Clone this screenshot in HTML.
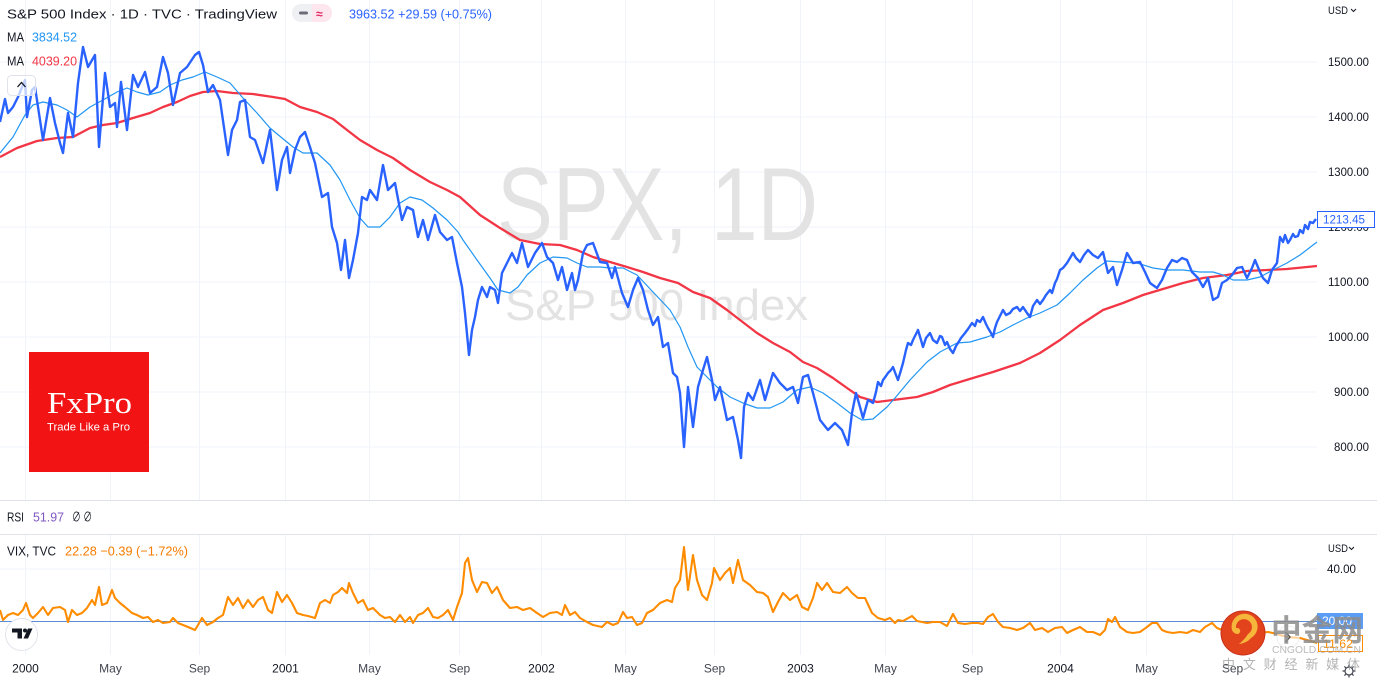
<!DOCTYPE html>
<html><head><meta charset="utf-8"><style>
html,body{margin:0;padding:0;background:#fff;}
svg{display:block;}
text{font-family:"Liberation Sans","Noto Sans CJK SC",sans-serif;}
</style></head><body>
<svg width="1377" height="682" viewBox="0 0 1377 682" xmlns="http://www.w3.org/2000/svg">
<rect width="1377" height="682" fill="#fff"/>
<!-- grid main -->
<g stroke="#f0f3fa" stroke-width="1">
<line x1="0" y1="62" x2="1317" y2="62"/><line x1="0" y1="117" x2="1317" y2="117"/><line x1="0" y1="172" x2="1317" y2="172"/><line x1="0" y1="227" x2="1317" y2="227"/><line x1="0" y1="282" x2="1317" y2="282"/><line x1="0" y1="337" x2="1317" y2="337"/><line x1="0" y1="392" x2="1317" y2="392"/><line x1="0" y1="447" x2="1317" y2="447"/>
<line x1="0" y1="569" x2="1317" y2="569"/>
</g>
<g stroke="#f0f3fa" stroke-width="1">
<line x1="25.5" y1="0" x2="25.5" y2="655"/><line x1="110.5" y1="0" x2="110.5" y2="655"/><line x1="199.5" y1="0" x2="199.5" y2="655"/><line x1="285.5" y1="0" x2="285.5" y2="655"/><line x1="369.5" y1="0" x2="369.5" y2="655"/><line x1="459.5" y1="0" x2="459.5" y2="655"/><line x1="541.5" y1="0" x2="541.5" y2="655"/><line x1="625.5" y1="0" x2="625.5" y2="655"/><line x1="714.5" y1="0" x2="714.5" y2="655"/><line x1="800.5" y1="0" x2="800.5" y2="655"/><line x1="885.5" y1="0" x2="885.5" y2="655"/><line x1="972.5" y1="0" x2="972.5" y2="655"/><line x1="1060.5" y1="0" x2="1060.5" y2="655"/><line x1="1146.5" y1="0" x2="1146.5" y2="655"/><line x1="1232.5" y1="0" x2="1232.5" y2="655"/>
</g>
<rect x="0" y="501" width="1377" height="33" fill="#fff"/>
<!-- pane separators -->
<line x1="0" y1="500.5" x2="1377" y2="500.5" stroke="#e0e3eb"/>
<line x1="0" y1="534.5" x2="1377" y2="534.5" stroke="#e0e3eb"/>
<!-- watermark -->
<text x="497" y="240" font-size="104" fill="#e3e3e3" textLength="321" lengthAdjust="spacingAndGlyphs">SPX, 1D</text>
<text x="505" y="320" font-size="44" fill="#e3e3e3" textLength="303" lengthAdjust="spacingAndGlyphs">S&amp;P 500 Index</text>
<!-- FxPro -->
<rect x="29" y="352" width="120" height="120" fill="#f21414"/>
<text x="47" y="413" font-size="31" fill="#fff" style="font-family:'Liberation Serif',serif" textLength="85" lengthAdjust="spacingAndGlyphs">FxPro</text>
<text x="47" y="430.5" font-size="11" fill="#fff" textLength="83" lengthAdjust="spacingAndGlyphs">Trade Like a Pro</text>
<!-- red MA -->
<polyline fill="none" stroke="#f23645" stroke-width="2.3" stroke-linejoin="round" points="0,157 17,148 37,141 57,138 73,137 90,128 103,125 117,123 133,118 150,113 163,107 177,102 190,96 203,92 217,91 233,93 253,94 273,97 285,99 300,107 317,112 333,119 347,130 360,140 377,150 393,158 410,170 430,182 447,190 460,197 480,215 500,228 520,240 540,244 560,245 577,250 593,257 610,262 627,267 643,272 660,278 678,283 693,292 710,298 727,310 740,320 757,333 773,343 790,352 803,362 817,368 833,378 847,388 860,397 877,402 893,400 917,397 933,392 950,385 973,378 993,372 1020,363 1040,353 1060,340 1080,325 1103,310 1123,303 1143,295 1163,289 1183,283 1203,278 1227,275 1247,271 1267,270 1287,269 1317,266"/>
<!-- light blue MA -->
<polyline fill="none" stroke="#2196f3" stroke-width="1.2" stroke-linejoin="round" points="0,153 13,137 25,115 33,105 43,102 57,105 67,110 77,117 90,107 103,100 117,92 127,88 137,92 148,95 160,92 170,85 182,80 193,77 205,72 217,77 230,83 243,98 257,113 270,128 282,138 293,147 303,153 317,153 330,165 340,180 350,200 360,218 368,227 380,227 390,217 400,203 410,197 422,200 433,208 447,220 458,232 463,240 477,260 490,278 498,290 510,293 518,287 527,275 540,263 553,257 567,258 577,263 587,267 600,267 610,268 623,268 637,275 653,292 670,310 680,327 688,347 697,367 707,377 717,387 730,397 743,403 757,408 770,408 783,402 797,390 810,387 823,393 837,403 850,413 862,420 873,419 887,407 895,398 910,380 927,362 940,352 957,343 970,342 987,337 1000,332 1013,325 1027,318 1040,313 1057,305 1070,293 1083,280 1097,268 1107,261 1120,262 1137,263 1153,268 1167,270 1183,270 1200,272 1213,272 1223,275 1233,280 1247,280 1260,277 1273,270 1287,263 1300,255 1317,242"/>
<!-- price -->
<polyline fill="none" stroke="#2962ff" stroke-width="2.4" stroke-linejoin="round" points="0,122 5,99 8,113 13,107 18,97 25,80 27,117 32,90 35,87 43,140 50,98 55,123 60,143 63,153 68,113 73,137 78,83 83,47 88,67 95,55 99,147 105,73 110,107 115,103 117,127 121,82 127,130 133,75 138,87 145,72 150,93 157,87 163,57 168,73 173,105 180,73 187,67 195,55 199,52 203,65 208,92 213,85 220,100 228,155 232,130 237,120 240,102 245,100 250,137 255,140 263,163 270,130 277,190 282,160 287,147 290,173 295,150 300,137 305,132 310,147 315,163 322,197 328,193 332,227 337,243 341,270 345,240 349,278 353,260 358,233 362,197 367,200 370,190 377,200 383,165 388,190 395,183 402,220 407,207 413,210 418,237 423,220 428,240 435,215 440,232 447,240 452,237 457,263 462,287 465,313 469,355 472,330 475,317 478,300 482,287 487,297 490,287 495,290 498,303 502,273 507,263 512,253 517,263 522,243 528,267 535,253 542,243 547,257 553,263 558,280 562,267 567,290 572,273 575,290 578,280 583,253 587,245 593,243 600,262 607,263 612,278 615,267 622,293 628,307 633,290 638,278 643,290 648,310 653,325 658,317 663,347 668,343 673,373 677,377 680,393 684,447 688,387 693,427 698,387 703,370 707,357 712,380 715,400 720,387 727,420 733,417 738,440 741,458 744,407 748,393 753,400 760,380 765,400 773,373 780,383 787,390 793,387 798,403 803,377 808,375 813,393 820,420 828,430 835,423 842,430 848,445 852,413 856,393 860,407 863,418 868,400 873,403 876,392 878,382 881,386 883,380 886,376 888,373 891,370 893,367 896,375 898,380 901,370 903,363 906,350 908,343 911,345 913,340 916,334 918,330 921,340 923,347 926,338 930,333 933,340 937,343 940,336 942,337 945,345 947,342 950,349 953,353 956,346 958,343 961,338 965,333 968,329 972,323 975,326 977,320 980,322 983,317 986,324 988,328 991,333 993,337 995,328 997,322 1000,316 1003,310 1006,315 1010,313 1013,309 1017,307 1020,311 1023,307 1027,313 1030,317 1033,306 1037,300 1040,304 1043,300 1046,295 1050,290 1052,293 1055,283 1057,279 1060,270 1063,268 1067,263 1070,258 1073,253 1076,258 1080,262 1084,255 1088,250 1093,255 1098,258 1103,252 1108,273 1113,267 1117,285 1122,270 1127,253 1133,263 1140,262 1145,272 1150,283 1157,288 1162,280 1167,268 1172,260 1177,262 1182,258 1187,260 1192,272 1198,278 1203,287 1208,278 1213,300 1218,297 1222,283 1227,280 1232,275 1237,268 1242,267 1247,278 1252,268 1255,260 1260,272 1263,278 1268,283 1272,270 1277,263 1280,237 1283,242 1285,235 1288,243 1290,240 1293,234 1295,237 1298,236 1300,230 1303,233 1305,225 1308,229 1310,222 1313,223 1316,219"/>
<!-- VIX baseline -->
<line x1="0" y1="621.5" x2="1317" y2="621.5" stroke="#5a8cd8" stroke-width="1"/>
<!-- VIX -->
<polyline fill="none" stroke="#ff8c00" stroke-width="2.1" stroke-linejoin="round" points="0,610 3,620 8,615 13,613 18,615 23,610 26,603 30,615 33,618 38,613 43,607 48,615 53,608 60,607 65,610 68,622 72,610 77,615 82,613 87,608 92,600 95,605 99,587 102,605 107,603 112,590 115,598 120,603 125,607 132,613 137,615 143,618 148,617 153,622 158,620 163,623 170,622 173,618 178,623 183,625 188,627 195,630 198,625 202,618 207,625 213,622 218,618 223,615 228,597 233,605 238,598 243,608 248,600 253,607 258,600 263,597 268,610 272,613 277,592 282,602 287,595 292,603 297,613 303,615 308,616 315,618 320,603 325,600 330,603 333,595 338,592 342,588 347,593 349,583 353,593 358,603 363,600 368,610 373,608 380,615 385,618 390,617 395,622 400,615 405,622 410,617 413,623 418,615 423,613 428,608 433,617 438,618 443,615 448,610 453,620 457,607 462,593 465,563 468,558 472,580 477,592 482,582 487,583 492,593 497,587 503,600 510,608 517,607 523,610 530,608 537,613 543,617 550,613 557,612 562,615 565,605 570,615 575,612 580,618 587,622 593,625 602,627 607,622 613,625 618,623 623,612 627,618 632,617 637,625 642,623 647,613 653,610 660,603 667,600 672,602 675,588 680,580 684,547 688,590 693,555 697,580 702,595 707,600 712,583 714,568 720,580 725,573 730,568 733,583 738,560 743,580 750,585 757,592 763,593 768,597 773,612 778,602 783,593 790,600 797,595 802,607 808,610 813,598 817,583 822,590 827,583 833,592 840,593 847,587 852,593 858,598 865,598 872,613 878,618 885,620 890,618 895,623 898,620 903,621 912,616 917,621 922,622 927,623 933,622 940,622 947,626 953,614 958,623 965,624 972,623 978,623 983,624 988,617 993,614 998,622 1003,627 1010,628 1017,630 1023,628 1030,623 1035,630 1042,628 1048,632 1055,628 1062,627 1067,633 1073,630 1080,627 1087,632 1093,632 1100,635 1105,630 1108,619 1112,622 1115,617 1120,627 1127,632 1133,633 1140,632 1147,627 1152,623 1157,623 1162,630 1167,632 1173,633 1180,632 1187,633 1193,630 1200,632 1205,627 1212,623 1217,628 1222,630 1230,625 1240,628 1250,630 1260,633 1268,632 1273,633 1287,637 1300,638 1307,640 1317,643"/>
<!-- header legend -->
<text x="7" y="18.5" font-size="13" fill="#131722" textLength="270" lengthAdjust="spacingAndGlyphs">S&amp;P 500 Index · 1D · TVC · TradingView</text>
<rect x="292" y="4" width="40" height="18" rx="9" fill="#eef0f3"/>
<path d="M312 4 h11 a9 9 0 0 1 0 18 h-11 z" fill="#fde6ee"/>
<rect x="299" y="11.5" width="9" height="3" rx="1.5" fill="#6a6d78"/>
<text x="316" y="18" font-size="12" fill="#e0245e" font-weight="bold">≈</text>
<text x="349" y="18.5" font-size="13" fill="#2962ff" textLength="143" lengthAdjust="spacingAndGlyphs">3963.52  +29.59 (+0.75%)</text>
<text x="7" y="41.5" font-size="13" fill="#131722" textLength="17" lengthAdjust="spacingAndGlyphs">MA</text>
<text x="32" y="41.5" font-size="13" fill="#2196f3" textLength="45" lengthAdjust="spacingAndGlyphs">3834.52</text>
<text x="7" y="65.5" font-size="13" fill="#131722" textLength="17" lengthAdjust="spacingAndGlyphs">MA</text>
<text x="32" y="65.5" font-size="13" fill="#f23645" textLength="45" lengthAdjust="spacingAndGlyphs">4039.20</text>
<rect x="7.5" y="75.5" width="28" height="20" rx="4" fill="rgba(255,255,255,0.7)" stroke="#e0e3eb"/>
<path d="M17.5 87 L21.5 82.5 L25.5 87" fill="none" stroke="#131722" stroke-width="1.3"/>
<!-- RSI / VIX legends -->
<text x="7" y="521.5" font-size="13" fill="#131722" textLength="17" lengthAdjust="spacingAndGlyphs">RSI</text>
<text x="33" y="521.5" font-size="13" fill="#7e57c2" textLength="31" lengthAdjust="spacingAndGlyphs">51.97</text>
<text x="72" y="521.5" font-size="13" fill="#131722" textLength="20" lengthAdjust="spacingAndGlyphs">∅ ∅</text>
<text x="7" y="555.5" font-size="13" fill="#131722" textLength="49" lengthAdjust="spacingAndGlyphs">VIX, TVC</text>
<text x="65" y="555.5" font-size="13" fill="#f57c00" textLength="123" lengthAdjust="spacingAndGlyphs">22.28  −0.39 (−1.72%)</text>
<!-- price scale -->
<g font-size="12" fill="#131722">
<text x="1328" y="14" font-size="11" textLength="20" lengthAdjust="spacingAndGlyphs">USD</text>
<text x="1328" y="66" textLength="41" lengthAdjust="spacingAndGlyphs">1500.00</text>
<text x="1328" y="121" textLength="41" lengthAdjust="spacingAndGlyphs">1400.00</text>
<text x="1328" y="176" textLength="41" lengthAdjust="spacingAndGlyphs">1300.00</text>
<text x="1328" y="231" textLength="41" lengthAdjust="spacingAndGlyphs">1200.00</text>
<text x="1328" y="286" textLength="41" lengthAdjust="spacingAndGlyphs">1100.00</text>
<text x="1328" y="341" textLength="41" lengthAdjust="spacingAndGlyphs">1000.00</text>
<text x="1334" y="396" textLength="35" lengthAdjust="spacingAndGlyphs">900.00</text>
<text x="1334" y="451" textLength="35" lengthAdjust="spacingAndGlyphs">800.00</text>
<text x="1328" y="552" font-size="11" textLength="20" lengthAdjust="spacingAndGlyphs">USD</text>
<text x="1327" y="573" textLength="29" lengthAdjust="spacingAndGlyphs">40.00</text>
</g>
<path d="M1351 9 l2.5 2.5 l2.5 -2.5" fill="none" stroke="#131722" stroke-width="1"/>
<path d="M1349 547 l2.5 2.5 l2.5 -2.5" fill="none" stroke="#131722" stroke-width="1"/>
<rect x="1317.5" y="211.5" width="57" height="16" fill="#fff" stroke="#2962ff"/>
<text x="1323" y="223.5" font-size="12" fill="#2962ff" textLength="42" lengthAdjust="spacingAndGlyphs">1213.45</text>
<rect x="1317" y="613" width="46" height="16" fill="#5b9cf5"/>
<text x="1322" y="625" font-size="12" fill="#fff" textLength="30" lengthAdjust="spacingAndGlyphs">20.00</text>
<rect x="1318.5" y="635.5" width="44" height="16" fill="#fff" stroke="#ff8c00"/>
<text x="1323" y="648" font-size="12" fill="#ff8c00" textLength="30" lengthAdjust="spacingAndGlyphs">11.62</text>
<!-- time axis -->
<g font-size="12" fill="#131722" text-anchor="middle">
<text x="25.5" y="672.5">2000</text>
<text x="110.5" y="672.5" fill="#434651">May</text>
<text x="199.5" y="672.5" fill="#434651">Sep</text>
<text x="285.5" y="672.5">2001</text>
<text x="369.5" y="672.5" fill="#434651">May</text>
<text x="459.5" y="672.5" fill="#434651">Sep</text>
<text x="541.5" y="672.5">2002</text>
<text x="625.5" y="672.5" fill="#434651">May</text>
<text x="714.5" y="672.5" fill="#434651">Sep</text>
<text x="800.5" y="672.5">2003</text>
<text x="885.5" y="672.5" fill="#434651">May</text>
<text x="972.5" y="672.5" fill="#434651">Sep</text>
<text x="1060.5" y="672.5">2004</text>
<text x="1146.5" y="672.5" fill="#434651">May</text>
<text x="1232.5" y="672.5" fill="#434651">Sep</text>
</g>
<!-- TradingView logo -->
<circle cx="21.5" cy="634.5" r="16" fill="#fff" stroke="#e0e3eb"/>
<path d="M12 628.5 h10 v10 h-4.5 v-6 h-5.5 z" fill="#131722"/>
<circle cx="25" cy="630.5" r="2" fill="#131722"/>
<path d="M28 628.5 h4.5 l-4.5 10 h-4.5 z" fill="#131722"/>
<!-- scroll chevron -->
<circle cx="1288" cy="637" r="11" fill="rgba(255,255,255,0.6)" stroke="#eceef2"/>
<path d="M1285.5 632 l4.5 5 l-4.5 5" fill="none" stroke="#555" stroke-width="1.4"/>
<!-- gear -->
<g stroke="#434651" stroke-width="1.2" fill="none">
<circle cx="1349" cy="671" r="4"/>
<path d="M1349 664.5v2.5M1349 675v2.5M1342.5 671h2.5M1353 671h2.5M1344.4 666.4l1.8 1.8M1351.8 673.8l1.8 1.8M1344.4 675.6l1.8-1.8M1351.8 668.2l1.8-1.8"/>
</g>
<!-- cngold watermark -->
<circle cx="1243" cy="633" r="22" fill="#e2431d"/>
<circle cx="1243" cy="633" r="22" fill="none" stroke="#c8321a" stroke-width="1"/>
<path d="M1236 628 a8 8 0 1 1 12 6 q-3 5 -9 10 q8 -1 12 -6 a13 13 0 1 0 -19 -8 a6 6 0 0 0 6 4 a3 3 0 0 0 -2 -6z" fill="#f6b63c"/>
<circle cx="1243" cy="627" r="3" fill="#e2431d"/>
<text x="1271" y="641" font-size="30" font-weight="bold" fill="rgba(140,140,140,0.85)" textLength="92" lengthAdjust="spacingAndGlyphs">中金网</text>
<text x="1272" y="653" font-size="10" fill="rgba(170,170,170,0.8)" textLength="89" lengthAdjust="spacingAndGlyphs">CNGOLD.COM.CN</text>
<text x="1222" y="669" font-size="13" fill="rgba(160,160,160,0.8)" textLength="138" lengthAdjust="spacing">中文财经新媒体</text>
</svg>
</body></html>
